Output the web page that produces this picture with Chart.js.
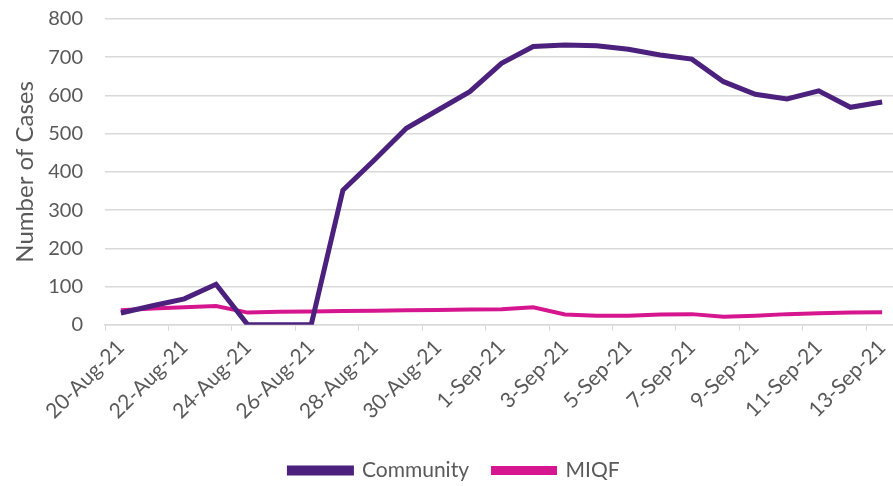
<!DOCTYPE html>
<html>
<head>
<meta charset="utf-8">
<script src="https://cdn.jsdelivr.net/npm/chart.js@4"></script>
<style>
  html, body { margin: 0; padding: 0; background: #fff; overflow: hidden; }
  #wrap { width: 900px; height: 486px; }
</style>
</head>
<body>
<div id="wrap"><canvas id="casesChart"></canvas></div>
<script>
const dates = [
  '20-Aug-21', '21-Aug-21', '22-Aug-21', '23-Aug-21', '24-Aug-21', '25-Aug-21',
  '26-Aug-21', '27-Aug-21', '28-Aug-21', '29-Aug-21', '30-Aug-21', '31-Aug-21',
  '1-Sep-21', '2-Sep-21', '3-Sep-21', '4-Sep-21', '5-Sep-21', '6-Sep-21',
  '7-Sep-21', '8-Sep-21', '9-Sep-21', '10-Sep-21', '11-Sep-21', '12-Sep-21', '13-Sep-21'
];
const community = [31, 50, 68, 106, 0, 0, 0, 352, 432, 514, 562, 610, 684, 728, 732, 730, 721, 706, 695, 636, 603, 591, 612, 569, 583];
const miqf = [38, 43, 46, 49, 32, 34, 35, 36, 37, 38, 39, 40, 41, 46, 27, 24, 24, 27, 28, 21, 24, 28, 30, 32, 33];
const yTicks = [0, 100, 200, 300, 400, 500, 600, 700, 800];

const textColor = '#595959';
const gridColor = '#d9d9d9';
const fontFamily = 'Lato, "Open Sans", sans-serif';

const ctx = document.getElementById('casesChart');

new Chart(ctx, {
  type: 'line',
  data: {
    labels: dates,
    datasets: [
      {
        label: 'Community',
        data: community,
        borderColor: 'rgb(75, 33, 125)',
        backgroundColor: 'rgb(75, 33, 125)',
        borderWidth: 5,
        pointRadius: 0,
        fill: false,
        tension: 0
      },
      {
        label: 'MIQF',
        data: miqf,
        borderColor: 'rgb(214, 22, 143)',
        backgroundColor: 'rgb(214, 22, 143)',
        borderWidth: 4,
        pointRadius: 0,
        fill: false,
        tension: 0
      }
    ]
  },
  options: {
    responsive: true,
    maintainAspectRatio: false,
    animation: false,
    layout: {
      padding: { top: 19, left: 11, right: 2, bottom: -5 }
    },
    scales: {
      x: {
        offset: true,
        afterFit: (s) => {
          s.paddingLeft = 0;
          s.paddingRight = 0;
          s.height += 8;
        },
        grid: {
          display: true,
          drawOnChartArea: false,
          offset: true,
          tickLength: 6,
          tickColor: (c) => (c.index % 2 === 0 ? gridColor : 'rgba(0,0,0,0)')
        },
        border: { display: true, color: gridColor, width: 1.5 },
        ticks: {
          autoSkip: false,
          maxRotation: 45,
          minRotation: 45,
          color: textColor,
          padding: 4,
          font: { family: fontFamily, size: 21 },
          callback: function(value, index) {
            return index % 2 === 0 ? this.getLabelForValue(value) : '';
          }
        }
      },
      y: {
        min: 0,
        max: 800,
        afterBuildTicks: (axis) => {
          axis.ticks = yTicks.map(v => ({ value: v }));
        },
        afterFit: (s) => {
          s.paddingTop = 0;
          s.paddingBottom = 0;
          s.width = 94;
        },
        grid: {
          color: gridColor,
          lineWidth: 1.5,
          drawTicks: false
        },
        border: { display: false },
        ticks: {
          color: textColor,
          padding: 22,
          font: { family: fontFamily, size: 20 }
        },
        title: {
          display: true,
          text: 'Number of Cases',
          color: textColor,
          padding: { top: 0, bottom: 9 },
          font: { family: fontFamily, size: 24 }
        }
      }
    },
    plugins: {
      legend: {
        position: 'bottom',
        labels: {
          color: textColor,
          boxWidth: 62,
          boxHeight: 5,
          padding: 24,
          font: { family: fontFamily, size: 21 }
        }
      },
      tooltip: { enabled: false }
    }
  }
});
</script>
</body>
</html>
